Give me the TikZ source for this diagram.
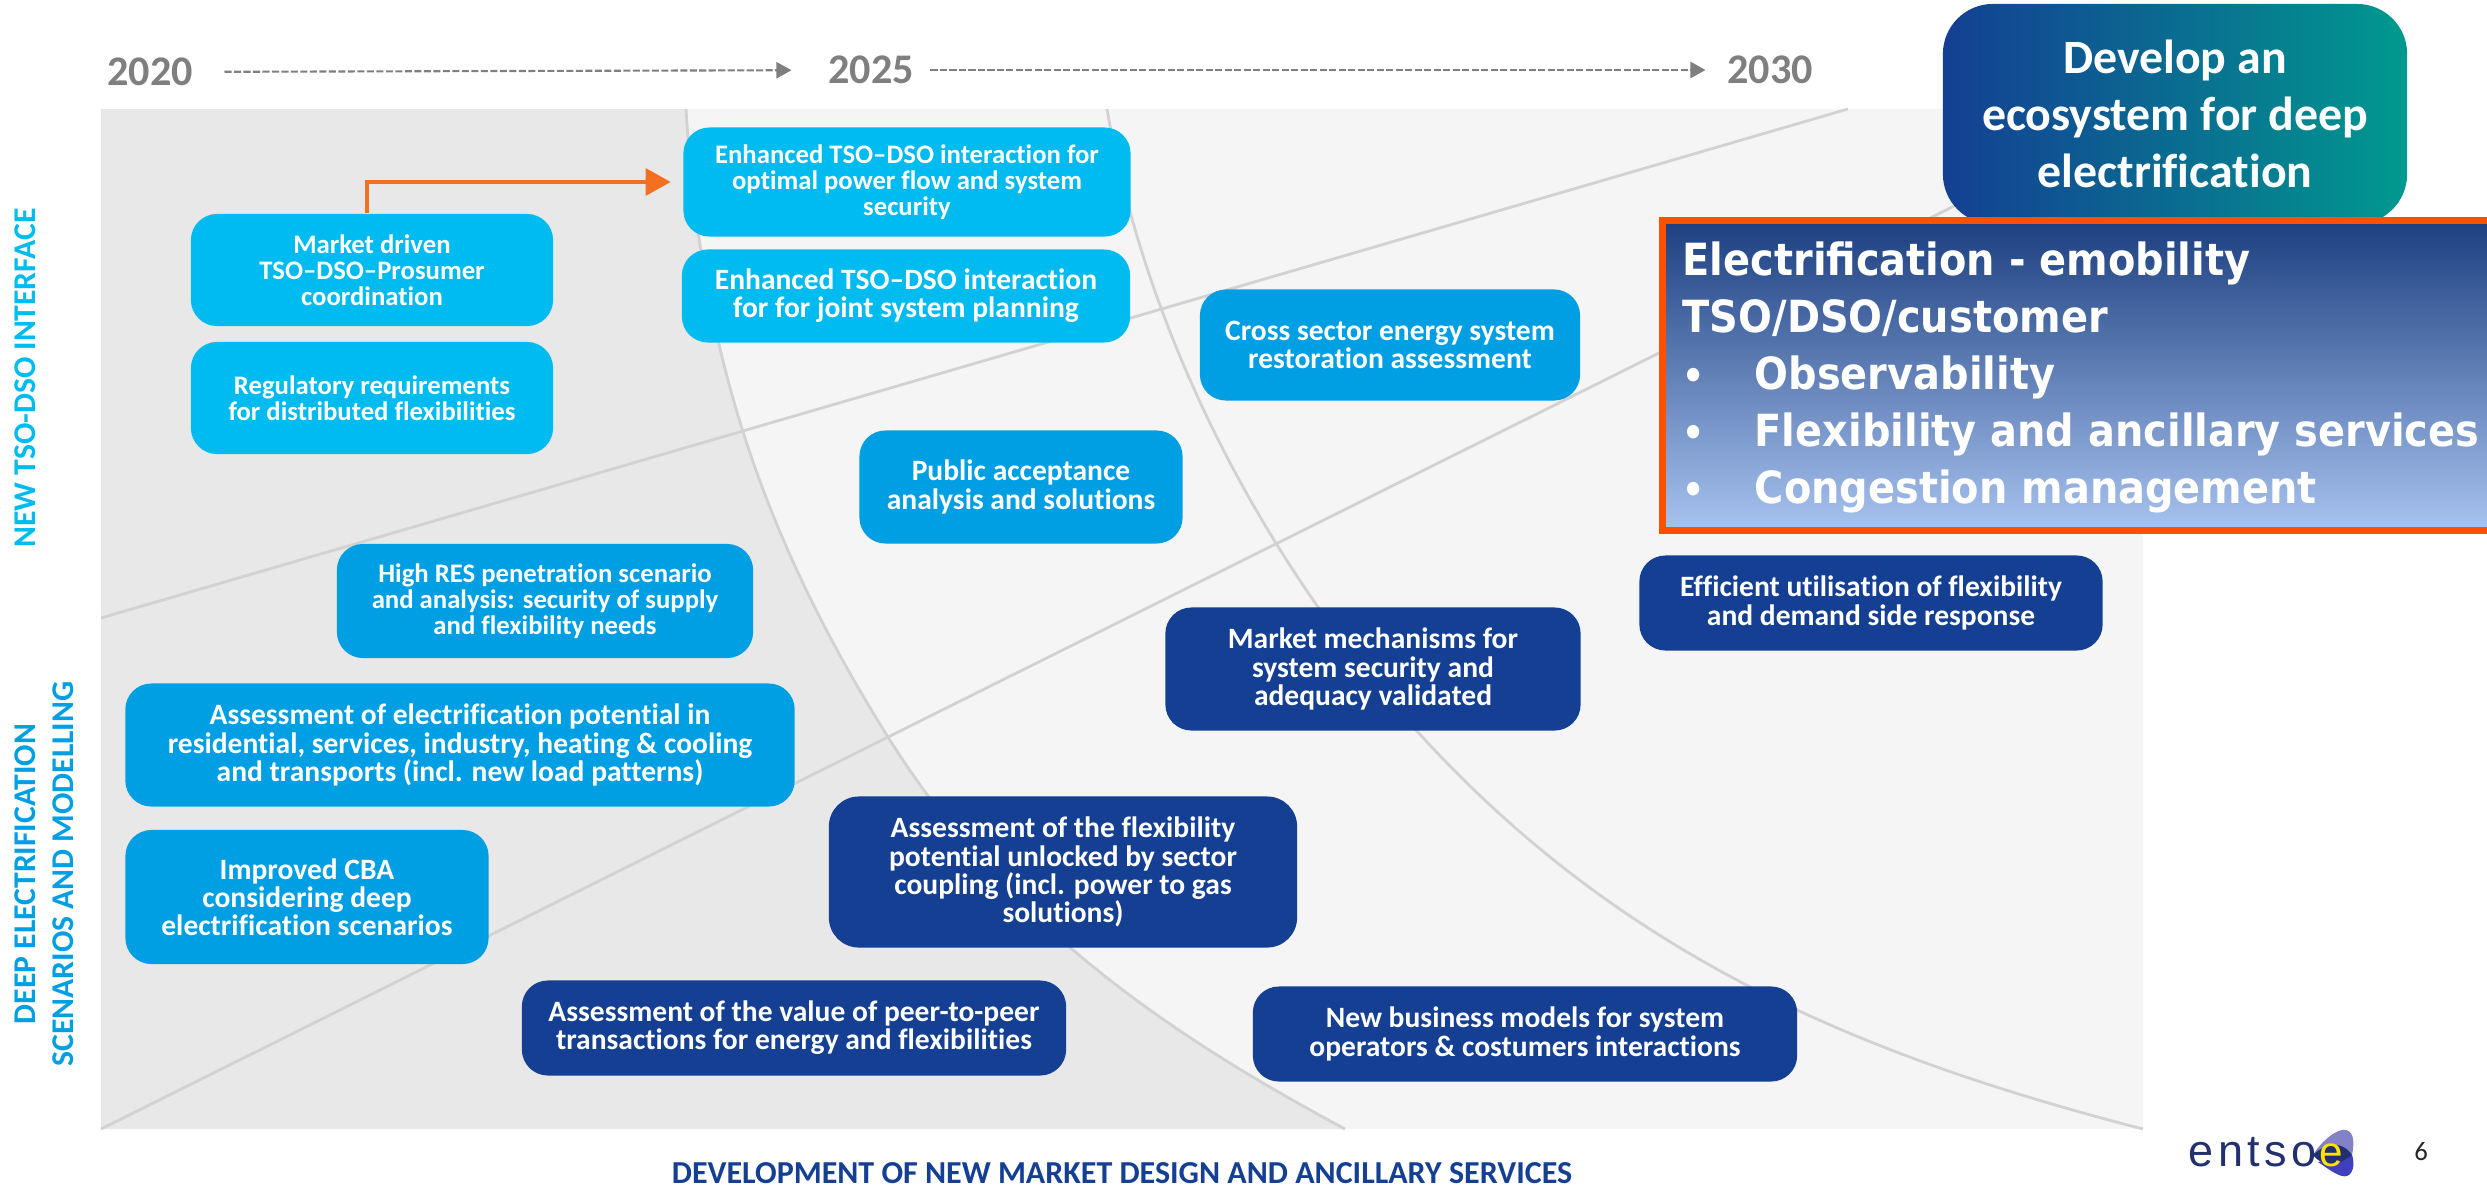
\documentclass[tikz,border=0pt]{standalone}
\usepackage{fontspec}
\setmainfont[Ligatures=NoCommon]{Carlito}
\newfontfamily\focusfont[FakeStretch=0.9]{DejaVu Sans}
\newfontfamily\logofont[LetterSpace=10]{Liberation Sans}
\usetikzlibrary{arrows.meta}

\definecolor{cyanbox}{HTML}{00BBEF}
\definecolor{skybox}{HTML}{009FE3}
\definecolor{navybox}{HTML}{143F93}
\definecolor{linegrey}{HTML}{D2D2D2}
\definecolor{yeargrey}{HTML}{7F7F7F}
\definecolor{orangeline}{HTML}{FF5000}
\definecolor{orangearrow}{HTML}{F36F21}
\definecolor{tealend}{HTML}{00998F}
\definecolor{focustop}{HTML}{1C3F80}
\definecolor{focusmid}{HTML}{6088C6}
\definecolor{focusend}{HTML}{A8C3EF}
\definecolor{logoblue}{HTML}{22306F}

\tikzset{
	tbox/.style={rounded corners=.26cm,inner sep=0pt,align=center,text=white,font=\bfseries\fontsize{8.4}{8}\selectfont},
	smalltext/.style={font=\bfseries\fontsize{7.6}{7.4}\selectfont},
	year/.style={text=yeargrey,font=\bfseries\fontsize{12}{14}\selectfont,inner sep=0pt},
	yeararrow/.style={draw=yeargrey,dash pattern=on 2pt off .7pt,line width=.6pt,-{Triangle[length=4.3pt,width=4.6pt]}},
	sidelabel/.style={rotate=90,inner sep=0pt,font=\bfseries\fontsize{9}{10}\selectfont},
	gridline/.style={draw=linegrey,line width=.8pt}
}

\begin{document}
\begin{tikzpicture}[x=0.01cm,y=-0.01cm]
	\useasboundingbox (0,0) rectangle (2487,1187);

	% background
	\fill[gray!8] (101,109) rectangle (2143,1129);
	\fill[gray!18] (101,109) -- (686,109) .. controls (700,339) and (755,525) .. (888,737) .. controls (1010,933) and (1187,1044) .. (1345,1129) -- (101,1129) -- cycle;
	\draw[gridline] (686,109) .. controls (700,339) and (755,525) .. (888,737) .. controls (1010,933) and (1187,1044) .. (1345,1129);
	\draw[gridline] (1107,109) .. controls (1144,324) and (1255,552) .. (1416,730) .. controls (1617,952) and (1852,1054) .. (2143,1129);
	\draw[gridline] (101,618) -- (1848,109);
	\draw[gridline] (101,1129) -- (2143,112);

	% years
	\node[year] (y2020) at (150,72) {2020};
	\node[year] (y2025) at (871,70) {2025};
	\node[year] (y2030) at (1770,70) {2030};
	\draw[yeararrow,shorten <=.31cm,shorten >=.36cm] (y2020) -- (y2025);
	\draw[yeararrow,shorten <=.16cm,shorten >=.21cm] (y2025) -- (y2030);

	% boxes
	\node[tbox,smalltext,fill=cyanbox,minimum width=3.62cm,minimum height=1.12cm] (market) at (372,270) {Market driven\\TSO--DSO--Prosumer\\coordination};
	\node[tbox,smalltext,fill=cyanbox,minimum width=3.62cm,minimum height=1.12cm] (regul) at (372,398) {Regulatory requirements\\for distributed flexibilities};
	\node[tbox,smalltext,fill=cyanbox,minimum width=4.47cm,minimum height=1.09cm] (flow) at (907,182) {Enhanced TSO--DSO interaction for\\optimal power flow and system\\security};
	\node[tbox,fill=cyanbox,minimum width=4.48cm,minimum height=.93cm] (planning) at (906,296) {Enhanced TSO--DSO interaction\\for for joint system planning};
	\node[tbox,fill=skybox,minimum width=3.80cm,minimum height=1.11cm] (cross) at (1390,345) {Cross sector energy system\\restoration assessment};
	\node[tbox,fill=skybox,minimum width=3.23cm,minimum height=1.13cm] (public) at (1021,487) {Public acceptance\\analysis and solutions};
	\node[tbox,smalltext,fill=skybox,minimum width=4.16cm,minimum height=1.14cm] (highres) at (545,601) {High RES penetration scenario\\and analysis: security of supply\\and flexibility needs};
	\node[tbox,fill=skybox,minimum width=6.69cm,minimum height=1.23cm] (elec) at (460,745) {Assessment of electrification potential in\\residential, services, industry, heating \& cooling\\and transports (incl. new load patterns)};
	\node[tbox,fill=skybox,minimum width=3.63cm,minimum height=1.34cm] (cba) at (307,897) {Improved CBA\\considering deep\\electrification scenarios};
	\node[tbox,fill=navybox,minimum width=4.15cm,minimum height=1.23cm] (mech) at (1373,669) {Market mechanisms for\\system security and\\adequacy validated};
	\node[tbox,fill=navybox,minimum width=4.63cm,minimum height=.95cm] (efficient) at (1871,603) {Efficient utilisation of flexibility\\and demand side response};
	\node[tbox,fill=navybox,rounded corners=.3cm,minimum width=4.68cm,minimum height=1.51cm] (sector) at (1063,872) {Assessment of the flexibility\\potential unlocked by sector\\coupling (incl. power to gas\\solutions)};
	\node[tbox,fill=navybox,minimum width=5.44cm,minimum height=.95cm] (peer) at (794,1028) {Assessment of the value of peer-to-peer\\transactions for energy and flexibilities};
	\node[tbox,fill=navybox,minimum width=5.44cm,minimum height=.95cm] (business) at (1525,1034) {New business models for system\\operators \& costumers interactions};

	\draw[draw=orangearrow,line width=.9pt,-{Triangle[length=.25cm,width=.27cm]},shorten >=.12cm] ([xshift=-.05cm]market.north) |- (flow.west);

	% top right
	\node[tbox,rounded corners=.5cm,left color=navybox,right color=tealend,minimum width=4.64cm,minimum height=2.2cm,font=\bfseries\fontsize{13.6}{16.2}\selectfont] (goal) at (2175,114) {Develop an\\ecosystem for deep\\electrification};
	\node[draw=orangeline,line width=2pt,top color=focustop,middle color=focusmid,bottom color=focusend,minimum width=8.41cm,minimum height=3.1cm,inner sep=0pt,anchor=north west] (focus) at (1659,217) {};
	\node[anchor=north west,align=left,inner sep=0pt,text=white,font=\focusfont\bfseries\fontsize{12.6}{16.2}\selectfont] (focustext) at (1682,241) {Electrification - emobility\\TSO/DSO/customer\\\makebox[.72cm][l]{\fontsize{11}{8}\selectfont •}Observability\\\makebox[.72cm][l]{\fontsize{11}{8}\selectfont •}Flexibility and ancillary services\\\makebox[.72cm][l]{\fontsize{11}{8}\selectfont •}Congestion management};

	% side and bottom labels
	\node[sidelabel,text=cyanbox] (tsolabel) at (25,378) {NEW TSO-DSO INTERFACE};
	\node[sidelabel,text=skybox] (deeplabel) at (25,874) {DEEP ELECTRIFICATION};
	\node[sidelabel,text=skybox] (scenlabel) at (63,874) {SCENARIOS AND MODELLING};
	\node[inner sep=0pt,text=navybox,font=\bfseries\fontsize{9.1}{10}\selectfont] (marketlabel) at (1122,1173) {DEVELOPMENT OF NEW MARKET DESIGN AND ANCILLARY SERVICES};

	% logo
	\fill[blue!40!gray!70] (2313,1155) .. controls (2322,1140) and (2338,1128) .. (2346,1130) .. controls (2355,1132) and (2354,1145) .. (2352,1155) -- cycle;
	\fill[blue!50!gray] (2318,1162) .. controls (2330,1170) and (2340,1178) .. (2347,1176) .. controls (2355,1173) and (2354,1160) .. (2352,1155) -- cycle;
	\fill[logoblue] (2313,1155) .. controls (2325,1143) and (2342,1140) .. (2352,1155) .. controls (2342,1163) and (2325,1170) .. (2313,1155) -- cycle;
	\node[anchor=base west,inner sep=0pt,text=logoblue,font=\logofont\fontsize{12.8}{14}\selectfont] (entso) at (2188,1166) {entso};
	\node[anchor=center,inner sep=0pt,text=yellow!85!orange,font=\logofont\fontsize{12}{12}\selectfont] (logoe) at (2331,1155) {e};
	\node[inner sep=0pt,text=black!85,font=\fontsize{7.6}{9}\selectfont] (pagenum) at (2421,1152) {6};
\end{tikzpicture}
\end{document}
